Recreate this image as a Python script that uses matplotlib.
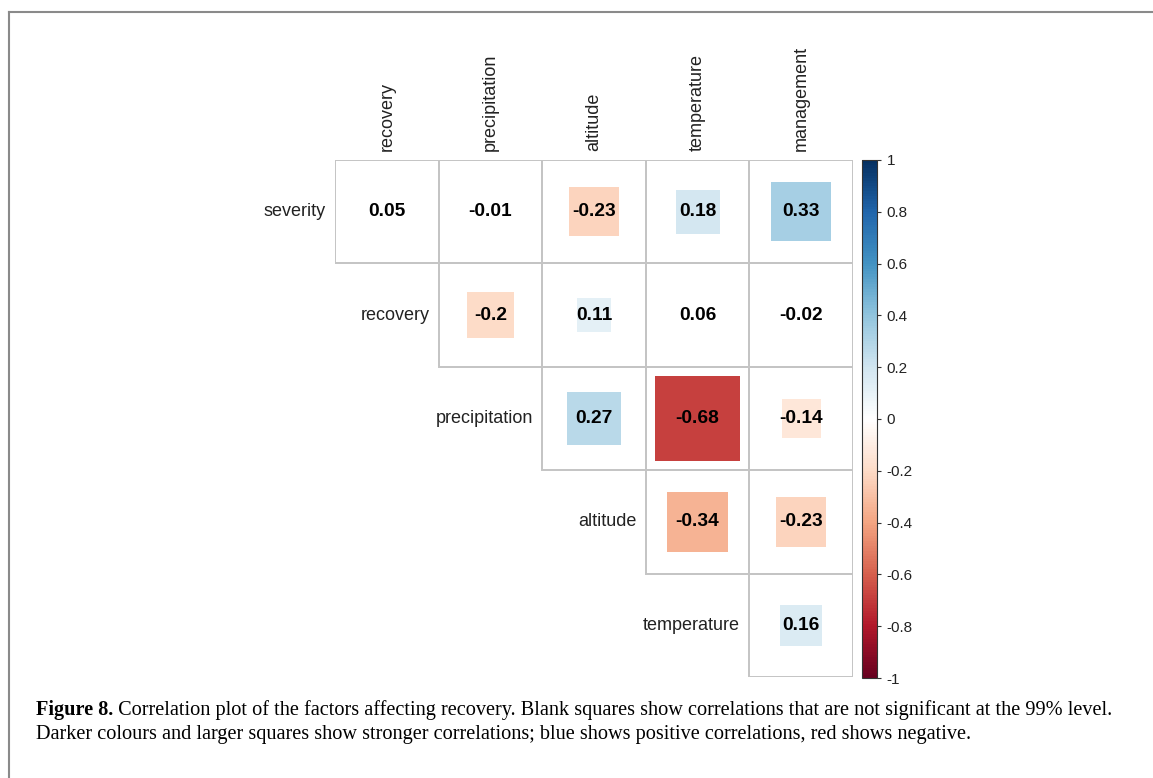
import matplotlib.pyplot as plt
import matplotlib as mpl
import numpy as np
from matplotlib.patches import Rectangle
from matplotlib.colors import LinearSegmentedColormap, Normalize
from matplotlib.lines import Line2D

# Variables on each axis of the upper-triangle correlation plot
row_names = ["severity", "recovery", "precipitation", "altitude", "temperature"]
col_names = ["recovery", "precipitation", "altitude", "temperature", "management"]

# Correlations per row (row i starts at column i)
severity_r = [0.05, -0.01, -0.23, 0.18, 0.33]
recovery_r = [-0.2, 0.11, 0.06, -0.02]
precipitation_r = [0.27, -0.68, -0.14]
altitude_r = [-0.34, -0.23]
temperature_r = [0.16]

# Significant at the 99% level (square drawn) or not (blank)
severity_sig = [False, False, True, True, True]
recovery_sig = [True, True, False, False]
precipitation_sig = [True, True, True]
altitude_sig = [True, True]
temperature_sig = [True]

corr_rows = [severity_r, recovery_r, precipitation_r, altitude_r, temperature_r]
sig_rows = [severity_sig, recovery_sig, precipitation_sig, altitude_sig, temperature_sig]

cbar_ticks = [-1, -0.8, -0.6, -0.4, -0.2, 0, 0.2, 0.4, 0.6, 0.8, 1]

# RdBu palette as used by corrplot (white centre)
rdbu = ["#67001F", "#B2182B", "#D6604D", "#F4A582", "#FDDBC7", "#FFFFFF",
        "#D1E5F0", "#92C5DE", "#4393C3", "#2166AC", "#053061"]
cmap = LinearSegmentedColormap.from_list("corr_rdbu", rdbu, N=200)
norm = Normalize(vmin=-1, vmax=1)

W, H = 1153, 778
fig = plt.figure(figsize=(W / 100, H / 100), dpi=100)
fig.patch.set_facecolor("white")

sans = "Liberation Sans"
serif = "Liberation Serif"

# main grid axes
ax = fig.add_axes([335 / W, 1 - 677 / H, 518 / W, 517 / H])
ax.set_xlim(0, 5)
ax.set_ylim(5, 0)
ax.axis("off")

grid_col = "#c4c4c4"
n = len(row_names)
for i in range(n):
    for k, (r, sig) in enumerate(zip(corr_rows[i], sig_rows[i])):
        j = i + k
        ax.add_patch(Rectangle((j, i), 1, 1, fill=False, edgecolor=grid_col,
                               lw=1.4, zorder=1))
        if sig:
            s = np.sqrt(abs(r))
            ax.add_patch(Rectangle((j + 0.5 - s / 2, i + 0.5 - s / 2), s, s,
                                   facecolor=cmap(norm(r)), edgecolor="none",
                                   zorder=2))
        ax.text(j + 0.5, i + 0.5, f"{r:g}", ha="center", va="center",
                fontsize=13.8, fontweight="bold", family=sans, color="black",
                zorder=3)
    # row label to the left of the first cell of the row
    ax.text(i - 0.09, i + 0.5, row_names[i], ha="right", va="center",
            fontsize=13, family=sans, color="#222222")

# column labels above the grid
for j, name in enumerate(col_names):
    ax.text(j + 0.5, -0.09, name, ha="center", va="bottom", rotation=90,
            fontsize=13, family=sans, color="#222222")

# colour legend
cax = fig.add_axes([862 / W, 1 - 678 / H, 15 / W, 518 / H])
cb = mpl.colorbar.ColorbarBase(cax, cmap=cmap, norm=norm, ticks=cbar_ticks)
cb.outline.set_edgecolor("#333333")
cb.outline.set_linewidth(0.8)
cb.set_ticklabels([f"{t:g}" for t in cbar_ticks])
cax.tick_params(length=3, width=0.8, color="#333333", pad=4, labelsize=11)
for lbl in cax.get_yticklabels():
    lbl.set_family(sans)
    lbl.set_color("#222222")

# caption
cap_x = 36 / W
cap_size = 14.6
t1 = fig.text(cap_x, 1 - 720 / H, "Figure 8.", fontsize=cap_size, family=serif,
              fontweight="bold", ha="left", va="bottom")
fig.add_artist(mpl.text.Annotation(
    " Correlation plot of the factors affecting recovery. Blank squares show "
    "correlations that are not significant at the 99% level.",
    xy=(1, 0), xycoords=t1, ha="left", va="bottom", fontsize=cap_size,
    family=serif))
fig.text(cap_x, 1 - 744 / H,
         "Darker colours and larger squares show stronger correlations; blue "
         "shows positive correlations, red shows negative.",
         fontsize=cap_size, family=serif, ha="left", va="bottom")

# page frame (left and top rules)
frame = "#8a8a8a"
fig.add_artist(Line2D([8.5 / W, 8.5 / W], [0, 1 - 12 / H], color=frame, lw=1.5,
                      transform=fig.transFigure))
fig.add_artist(Line2D([8.5 / W, 1], [1 - 12 / H, 1 - 12 / H], color=frame, lw=1.5,
                      transform=fig.transFigure))

fig.savefig("out.png", dpi=100)
